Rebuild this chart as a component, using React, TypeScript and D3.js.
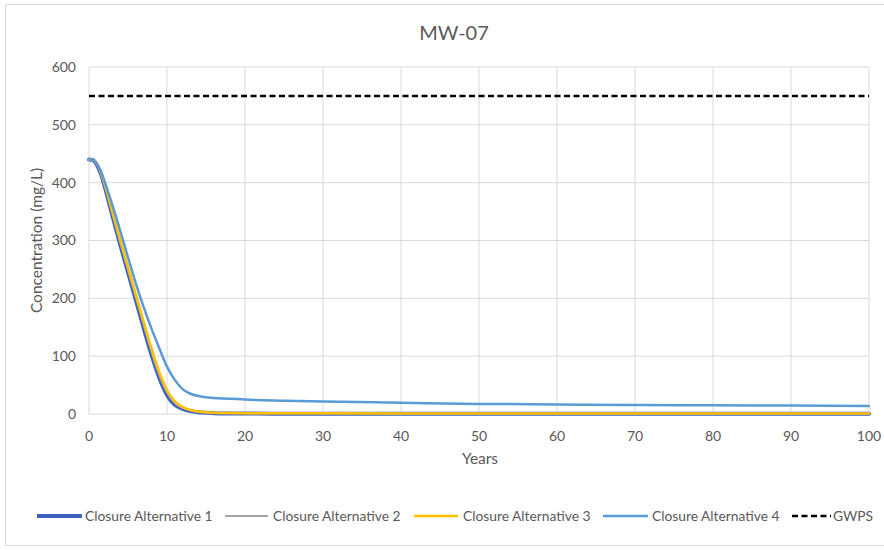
import React from "react";
import * as d3 from "d3";

const years = [0, 0.5, 1, 1.5, 2, 3, 4, 5, 6, 7, 8, 9, 10, 11, 12, 13, 14, 15, 16, 18, 20, 25, 30, 40, 50, 60, 70, 80, 90, 100];
const alt1 = [440, 439, 431, 416, 394, 343, 293, 245, 197, 149, 103, 63, 33, 16, 9, 5, 3, 2, 1.5, 1, 0.8, 0.6, 0.5, 0.5, 0.5, 0.5, 0.5, 0.5, 0.5, 0.5];
const alt2 = [440, 439, 432, 417, 396, 346, 297, 249, 202, 155, 108, 68, 37, 19, 10.5, 6, 3.6, 2.5, 1.9, 1.3, 1.1, 0.9, 0.8, 0.8, 0.8, 0.8, 0.8, 0.8, 0.8, 0.8];
const alt3 = [440, 439, 433, 419, 398, 350, 301, 254, 207, 160, 114, 73, 41, 22, 12, 7, 4.3, 3, 2.3, 1.7, 1.4, 1.2, 1.1, 1, 1, 1, 1, 1, 1, 1];
const alt4 = [440, 439, 432, 420, 402, 361, 317, 271, 226, 185, 148, 114, 82, 59, 43, 35, 31, 29, 27.5, 26.5, 25, 23, 21.5, 19.5, 17.5, 16.5, 15.5, 15, 14.5, 14];
const gwps = 550;
const seriesNames = ["Closure Alternative 1", "Closure Alternative 2", "Closure Alternative 3", "Closure Alternative 4", "GWPS"];
const yTicks = [0, 100, 200, 300, 400, 500, 600];
const xTicks = [0, 10, 20, 30, 40, 50, 60, 70, 80, 90, 100];

const FONT = "Lato, 'Open Sans', sans-serif";
const TXT = "#595959";

export default function App() {
  const x = d3.scaleLinear().domain([0, 100]).range([89, 869]);
  const y = d3.scaleLinear().domain([0, 600]).range([414, 67]);
  const line = d3
    .line<number>()
    .x((_, i) => x(years[i]))
    .y((d) => y(d))
    .curve(d3.curveMonotoneX);

  const series = [
    { name: seriesNames[0], data: alt1, color: "#3d62be", width: 4 },
    { name: seriesNames[1], data: alt2, color: "#a5a5a5", width: 2 },
    { name: seriesNames[2], data: alt3, color: "#ffc000", width: 2.5 },
    { name: seriesNames[3], data: alt4, color: "#5b9bd5", width: 2.5 },
  ];

  const legend = [
    { x1: 37, x2: 82, tx: 85, color: "#3d62be", width: 4, dash: undefined },
    { x1: 225, x2: 268, tx: 273, color: "#a5a5a5", width: 2, dash: undefined },
    { x1: 414, x2: 458, tx: 463, color: "#ffc000", width: 2.5, dash: undefined },
    { x1: 603, x2: 648, tx: 652, color: "#5b9bd5", width: 2.5, dash: undefined },
    { x1: 792, x2: 831, tx: 833, color: "#000000", width: 2.5, dash: "6,3.5" },
  ];

  return (
    <svg
      width={884}
      height={550}
      style={{ position: "absolute", left: 0, top: 0, background: "#fff" }}
      fontFamily={FONT}
    >
      <rect x={5.5} y={4.5} width={890} height={541} fill="#fff" stroke="#d9d9d9" strokeWidth={1} />
      <text x={454} y={40} textAnchor="middle" fontSize={20} fill={TXT}>
        MW-07
      </text>
      {yTicks.map((t) => (
        <g key={"y" + t}>
          <line x1={x(0)} x2={x(100)} y1={y(t)} y2={y(t)} stroke="#d9d9d9" strokeWidth={1} />
          <text x={76} y={y(t)} dy="0.35em" textAnchor="end" fontSize={14} fill={TXT}>
            {t}
          </text>
        </g>
      ))}
      {xTicks.map((t) => (
        <g key={"x" + t}>
          <line x1={x(t)} x2={x(t)} y1={y(0)} y2={y(600)} stroke="#d9d9d9" strokeWidth={1} />
          <text x={x(t)} y={436} dy="0.35em" textAnchor="middle" fontSize={14} fill={TXT}>
            {t}
          </text>
        </g>
      ))}
      <text x={480} y={459} dy="0.35em" textAnchor="middle" fontSize={15.5} fill={TXT}>
        Years
      </text>
      <text
        transform={`translate(37,${y(300)}) rotate(-90)`}
        textAnchor="middle"
        dy="0.35em"
        fontSize={15.5}
        fill={TXT}
      >
        Concentration (mg/L)
      </text>
      <line
        x1={x(0)}
        x2={x(100)}
        y1={y(gwps)}
        y2={y(gwps)}
        stroke="#000"
        strokeWidth={2.5}
        strokeDasharray="6,3.5"
      />
      {series.map((s) => (
        <path
          key={s.name}
          d={line(s.data) || ""}
          fill="none"
          stroke={s.color}
          strokeWidth={s.width}
          strokeLinejoin="round"
          strokeLinecap="round"
        />
      ))}
      {legend.map((l, i) => (
        <g key={"lg" + i}>
          <line x1={l.x1} x2={l.x2} y1={516} y2={516} stroke={l.color} strokeWidth={l.width} strokeDasharray={l.dash} />
          <text x={l.tx} y={516} dy="0.35em" fontSize={13.8} fill={TXT}>
            {seriesNames[i]}
          </text>
        </g>
      ))}
    </svg>
  );
}
